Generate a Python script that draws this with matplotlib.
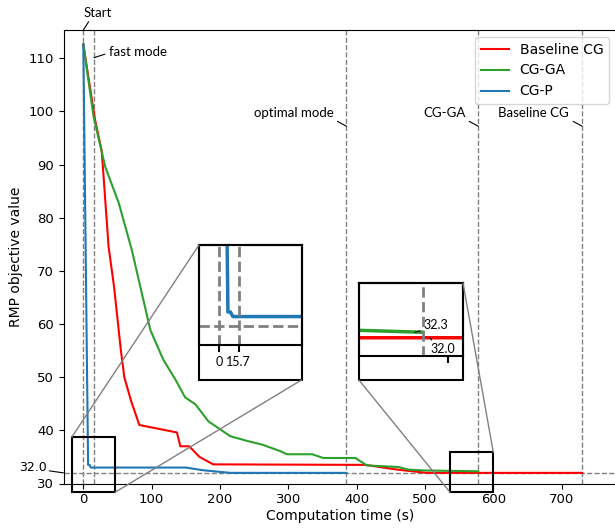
import matplotlib.pyplot as plt
from matplotlib.patches import Rectangle, ConnectionPatch

# objective value over time for the three methods
base_t = [0, 17, 27, 37, 45, 55, 60, 70, 82, 137, 142, 155, 170, 190, 413, 460, 503, 730]
base_v = [112.6, 98.5, 92.5, 74.5, 67.0, 55.0, 50.0, 45.5, 41.0, 39.6, 37.0, 37.0, 35.0, 33.6, 33.5, 32.6, 32.0, 32.0]

ga_t = [0, 15, 32, 52, 71, 98, 117, 135, 149, 164, 183, 215, 240, 262, 288, 298, 335, 351,
        398, 415, 461, 476, 500, 578]
ga_v = [112.6, 99.0, 89.6, 82.7, 73.9, 58.9, 53.3, 49.5, 46.2, 44.9, 41.7, 38.9, 38.0, 37.3,
        36.1, 35.5, 35.5, 34.8, 34.8, 33.4, 33.1, 32.6, 32.45, 32.3]

p_t = [0, 7, 9, 11, 150, 175, 215, 385]
p_v = [112.6, 33.5, 33.5, 33.0, 33.0, 32.5, 32.0, 32.0]

# event times (s) and reference values
t_start = 0
t_fast = 15.7
t_optimal = 385
t_ga = 578
t_base = 730
best_obj = 32.0
ga_obj = 32.3

W, H = 615, 529


def box(l, t, r, b):
    return [l / W, 1 - b / H, (r - l) / W, (b - t) / H]


ann_font = 'Lato'
fig = plt.figure(figsize=(W / 100, H / 100), dpi=100)
ax = fig.add_axes(box(63.5, 30, 616, 483.5))

ax.plot(base_t, base_v, color='red', lw=1.5, label='Baseline CG')
ax.plot(ga_t, ga_v, color='#2ca02c', lw=1.5, label='CG-GA')
ax.plot(p_t, p_v, color='#1f77b4', lw=1.5, label='CG-P')

for t in [t_start, t_fast, t_optimal, t_ga, t_base]:
    ax.axvline(t, color='gray', ls='--', lw=1, zorder=1)
ax.axhline(best_obj, color='gray', ls='--', lw=1, zorder=1)

ax.set_xlim(-29, 779.5)
ax.set_ylim(30, 115.3)
ax.set_xticks(range(0, 800, 100))
ax.set_yticks(range(30, 111, 10))
ax.tick_params(labelsize=9.5)
ax.set_xlabel('Computation time (s)', fontsize=10, labelpad=2)
ax.set_ylabel('RMP objective value', fontsize=10)
ax.legend(loc='upper right', fontsize=10)

# event annotations
kw = dict(textcoords='offset pixels', fontsize=9.5, family=ann_font)
ax.annotate('Start', xy=(t_start, 1), xycoords=('data', 'axes fraction'), xytext=(0, 11),
            ha='left', va='bottom',
            arrowprops=dict(arrowstyle='-', color='k', lw=0.8, relpos=(0.25, 0), shrinkA=0, shrinkB=0), **kw)
ax.annotate('fast mode', xy=(t_fast, 110.1), xytext=(15, 6), ha='left', va='center',
            arrowprops=dict(arrowstyle='-', color='k', lw=0.8, relpos=(0, 0.4), shrinkA=1, shrinkB=0), **kw)
for name, t in [('optimal mode', t_optimal), ('CG-GA', t_ga), ('Baseline CG', t_base)]:
    ax.annotate(name, xy=(t, 97.2), xytext=(-13, 7), ha='right', va='bottom',
                arrowprops=dict(arrowstyle='-', color='k', lw=0.8, relpos=(1, 0), shrinkA=1, shrinkB=0), **kw)
ax.annotate('%.1f' % best_obj, xy=(0, best_obj), xycoords=('axes fraction', 'data'),
            xytext=(-17, 5), textcoords='offset pixels', ha='right', va='center', fontsize=9,
            annotation_clip=False,
            arrowprops=dict(arrowstyle='-', color='k', lw=0.8, relpos=(1, 0.3), shrinkA=0, shrinkB=0))

# zoom boxes on the main axes
zoom1 = Rectangle((-17, 28.35), 63.4, 10.35, fill=False, ec='k', lw=1.5, clip_on=False, zorder=5)
zoom2 = Rectangle((536.6, 28.35), 63.4, 7.5, fill=False, ec='k', lw=1.5, clip_on=False, zorder=5)
ax.add_patch(zoom1)
ax.add_patch(zoom2)

# inset 1: CG-P near the start
ax1 = fig.add_axes(box(199, 245, 301.5, 345))
ax1.plot(p_t, p_v, color='#1f77b4', lw=2.5)
ax1.axvline(t_start, color='gray', ls='--', lw=2)
ax1.axvline(t_fast, color='gray', ls='--', lw=2)
ax1.axhline(best_obj, color='gray', ls='--', lw=2)
ax1.set_xlim(-16.4, 66.5)
ax1.set_ylim(29.9, 40.8)
ax1.set_yticks([])
ax1.set_xticks([t_start, t_fast])
ax1.set_xticklabels(['0', '15.7'], family=ann_font, fontsize=9)
ax1.tick_params(axis='x', length=5, width=1.5, pad=3)
ax1.xaxis.get_major_ticks()[1].tick1line.set_color('gray')
for s in ax1.spines.values():
    s.set_linewidth(1.5)
ax1.add_patch(Rectangle((0, -0.35), 1, 1.35, transform=ax1.transAxes, fill=False, ec='k',
                        lw=1.5, clip_on=False))

# inset 2: end of CG-GA and baseline
ax2 = fig.add_axes(box(359, 283, 463, 356))
ax2.plot(base_t, base_v, color='red', lw=2.5)
ax2.plot(ga_t, ga_v, color='#2ca02c', lw=2.5)
ax2.axvline(t_ga, color='gray', ls='--', lw=2)
ax2.set_xlim(522, 613)
ax2.set_ylim(31, 35)
ax2.set_yticks([])
ax2.set_xticks([600])
ax2.set_xticklabels([''])
ax2.tick_params(axis='x', length=5, width=1.5)
for s in ax2.spines.values():
    s.set_linewidth(1.5)
ax2.add_patch(Rectangle((0, -0.33), 1, 1.33, transform=ax2.transAxes, fill=False, ec='k',
                        lw=1.5, clip_on=False))
ax2.annotate('%.1f' % ga_obj, xy=(571, ga_obj), xytext=(8, 7), textcoords='offset pixels',
             ha='left', va='center', fontsize=9, family=ann_font,
             arrowprops=dict(arrowstyle='-', color='k', lw=0.8, relpos=(0, 0.1), shrinkA=0, shrinkB=0))
ax2.annotate('%.1f' % best_obj, xy=(584, best_obj), xytext=(1, -11), textcoords='offset pixels',
             ha='left', va='center', fontsize=9, family=ann_font,
             arrowprops=dict(arrowstyle='-', color='k', lw=0.8, relpos=(0.15, 0.9), shrinkA=0, shrinkB=0))

# connector lines between zoom boxes and insets
links = [((-17, 38.7), ax1, (0, 1)), ((46.4, 28.35), ax1, (1, -0.35)),
         ((600, 35.85), ax2, (1, 1)), ((536.6, 28.35), ax2, (0, -0.33))]
for xy, axin, corner in links:
    con = ConnectionPatch(xyA=xy, coordsA=ax.transData, xyB=corner, coordsB=axin.transAxes,
                          color='gray', lw=1)
    fig.add_artist(con)

fig.savefig('out.png', dpi=100)
